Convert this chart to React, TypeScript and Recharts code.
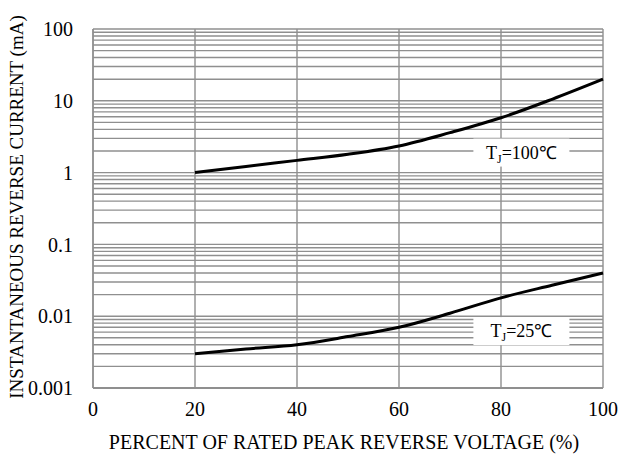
import { LineChart, Line, XAxis, YAxis, CartesianGrid, ReferenceLine, ReferenceDot, Label } from "recharts";

const voltage = [20, 30, 40, 50, 60, 70, 80, 90, 100];
const current100 = [1.0, 1.22, 1.48, 1.8, 2.35, 3.6, 5.8, 10.5, 20];
const current25 = [0.003, 0.0035, 0.004, 0.0052, 0.007, 0.011, 0.018, 0.027, 0.04];

const xTicks = [0, 20, 40, 60, 80, 100];
const yTicks = [0.001, 0.01, 0.1, 1, 10, 100];
const decades = [0.001, 0.01, 0.1, 1, 10];
const minorSteps = [1, 2, 3, 4, 5, 6, 7, 8, 9];

const data = voltage.map((v, i) => ({ v, t100: current100[i], t25: current25[i] }));
const gridValues = [...decades.flatMap((d) => minorSteps.map((m) => +(d * m).toPrecision(3))), 100];

const font = "Liberation Serif";
const gridColor = "#8f8f8f";
const tickStyle = { fill: "#000", fontFamily: font, fontSize: 20 };

function TempTag(props: any) {
  const { cx, cy, temp } = props;
  return (
    <g>
      <rect x={cx - 48} y={cy - 14} width={96} height={28} fill="#fff" />
      <text x={cx} y={cy + 6} textAnchor="middle" fontFamily={font} fontSize={18} fill="#000">
        T<tspan fontSize={12} dy={4}>J</tspan><tspan dy={-4}>={temp}℃</tspan>
      </text>
    </g>
  );
}

function CustomChart() {
  return (
    <div style={{ position: "absolute", left: 0, top: 0, fontFamily: font }}>
      <LineChart width={621} height={458} data={data} margin={{ top: 29, right: 18, bottom: 0, left: 0 }} style={{ fontFamily: font }}>
        <CartesianGrid horizontal={false} stroke={gridColor} strokeWidth={1.4} />
        {gridValues.map((g) => (
          <ReferenceLine key={g} y={g} stroke={gridColor} strokeWidth={1.4} />
        ))}
        <XAxis
          dataKey="v"
          type="number"
          domain={[0, 100]}
          ticks={xTicks}
          tickSize={0}
          tickMargin={14}
          height={70}
          axisLine={{ stroke: gridColor, strokeWidth: 2 }}
          tick={tickStyle}
          fontFamily={font}
        >
          <Label
            content={() => (
              <text x={344} y={449} textAnchor="middle" fontFamily={font} fontSize={20} fill="#000">
                PERCENT OF RATED PEAK REVERSE VOLTAGE (%)
              </text>
            )}
          />
        </XAxis>
        <YAxis
          scale="log"
          type="number"
          domain={[0.001, 100]}
          ticks={yTicks}
          allowDataOverflow
          tickFormatter={(v: number) => String(v)}
          tickSize={0}
          tickMargin={20}
          width={93}
          axisLine={{ stroke: gridColor, strokeWidth: 1.4 }}
          tick={tickStyle}
          fontFamily={font}
        >
          <Label
            content={() => (
              <text x={23} y={207} transform="rotate(-90 23 207)" textAnchor="middle" fontFamily={font} fontSize={19} fill="#000">
                INSTANTANEOUS REVERSE CURRENT (mA)
              </text>
            )}
          />
        </YAxis>
        <Line type="monotone" dataKey="t100" stroke="#000" strokeWidth={3} dot={false} isAnimationActive={false} />
        <Line type="monotone" dataKey="t25" stroke="#000" strokeWidth={3} dot={false} isAnimationActive={false} />
        <ReferenceDot x={84} y={1.9} r={0} shape={(p: any) => <TempTag {...p} temp="100" />} />
        <ReferenceDot x={84} y={0.0062} r={0} shape={(p: any) => <TempTag {...p} temp="25" />} />
      </LineChart>
    </div>
  );
}

export default CustomChart;
